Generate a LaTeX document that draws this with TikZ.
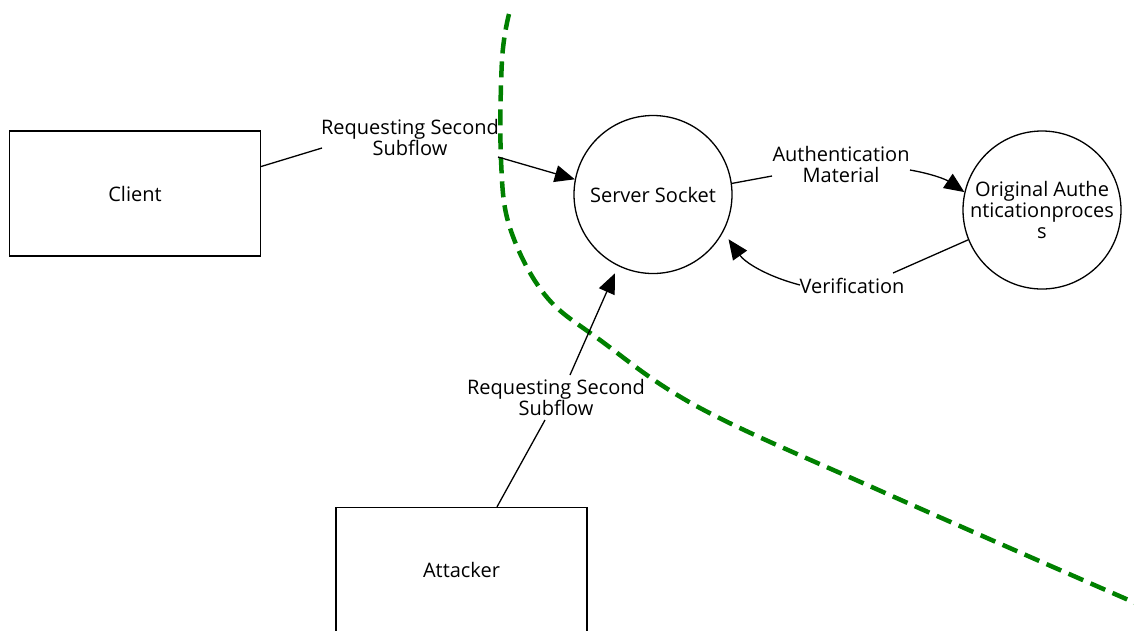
\documentclass[tikz,border=0pt]{standalone}
\usepackage{fontspec}
\setmainfont{Open Sans}
\usetikzlibrary{arrows.meta,calc}
\begin{document}
\begin{tikzpicture}[x=1pt,y=-1pt,
  every node/.style={font=\fontsize{20}{21}\selectfont, inner sep=0pt, align=center},
  entity/.style={draw, line width=1.3pt, minimum width=251pt, minimum height=125pt},
  process/.style={draw, circle, line width=1.3pt, minimum size=158pt},
  flow/.style={line width=1.3pt},
  arr/.style={flow, -{Triangle[length=20pt,width=17pt]}},
  lbl/.style={inner sep=1pt},
  boundary/.style={draw=green!50!black, line width=4.5pt, dash pattern=on 16pt off 8pt}
]
\useasboundingbox (0,0) rectangle (1134,630);

% trust boundary
\draw[boundary] plot[smooth, tension=0.6] coordinates
  {(509,14) (502,60) (501,160) (510,228) (545,295) (600,340) (700,408) (883,492) (1140,605)};

% entities and processes
\node[entity] (client) at (135,193.5) {Client};
\node[process] (server) at (653,194.5) {Server Socket};
\node[process] (auth) at (1042,210) {Original Authe\\nticationproces\\s};
\node[entity] (attacker) at (461.5,570) {Attacker};

% flow labels
\node[lbl] (l1) at (410,137) {Requesting Second\\Subflow};
\node[lbl] (l2) at (841,164) {Authentication\\Material};
\node[lbl] (l3) at (852,286) {Verification};
\node[lbl] (l4) at (556,397) {Requesting Second\\Subflow};

% data flows
\draw[flow] ([yshift=27pt]client.east) -- ([xshift=-88pt,yshift=-11pt]l1.center);
\draw[arr] ([xshift=88pt,yshift=-20pt]l1.center) -- (server.169);

\draw[flow] (server.8) -- ([xshift=-69pt,yshift=-12pt]l2.center);
\draw[arr] ([xshift=69pt,yshift=-6pt]l2.center) to[bend left=12] (auth.167);

\draw[flow] (auth.202) -- ([xshift=41pt,yshift=13pt]l3.center);
\draw[arr, shorten >=9pt] ([xshift=-52pt,yshift=1pt]l3.center) to[bend left=20] (server.-28);

\draw[flow] ([xshift=35.5pt]attacker.north) -- ([xshift=-11pt,yshift=-23pt]l4.center);
\draw[arr, shorten >=8pt] ([xshift=14pt,yshift=22pt]l4.center) -- (server.-116);
\end{tikzpicture}
\end{document}
